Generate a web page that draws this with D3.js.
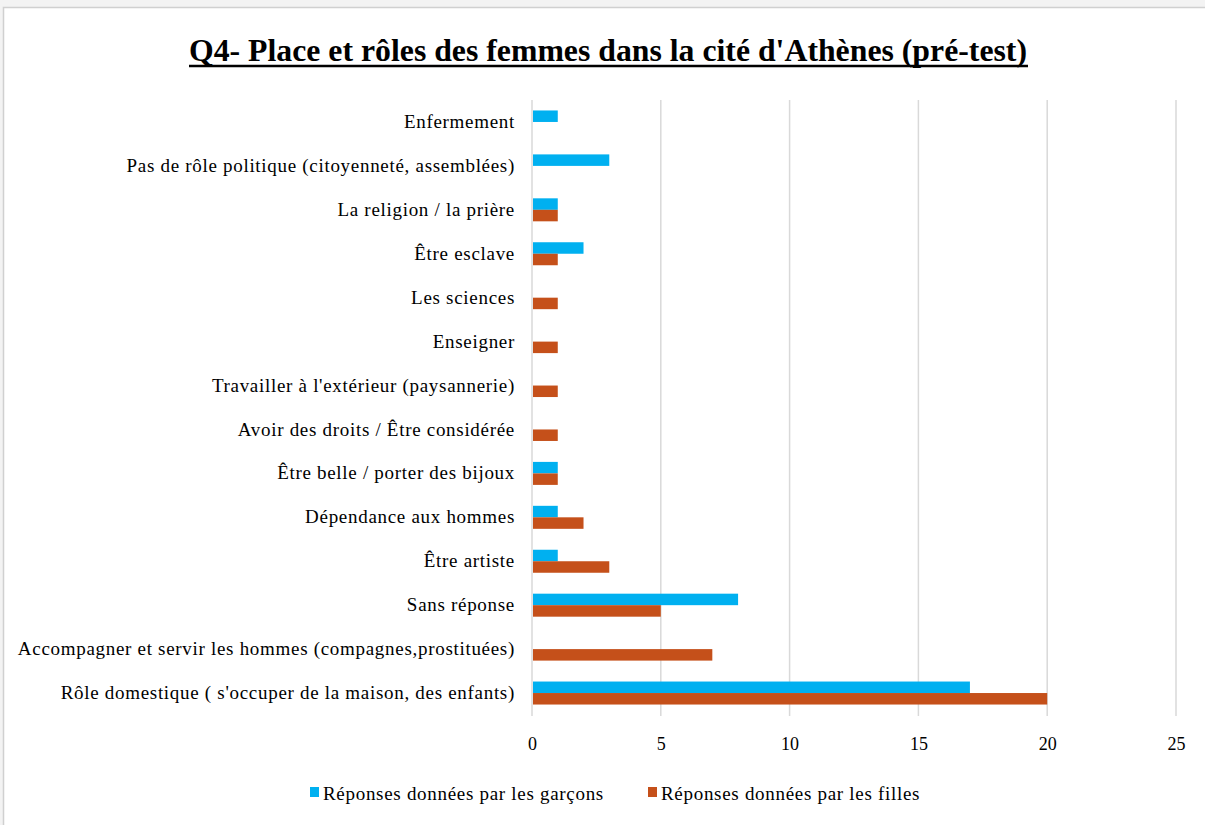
<!DOCTYPE html>
<html><head><meta charset="utf-8">
<script src="https://cdn.jsdelivr.net/npm/d3@7"></script>
<style>body{margin:0;background:#f3f3f3;overflow:hidden}svg{display:block}</style>
</head><body>
<script>
const categories = [
  "Enfermement",
  "Pas de rôle politique (citoyenneté, assemblées)",
  "La religion / la prière",
  "Être esclave",
  "Les sciences",
  "Enseigner",
  "Travailler à l'extérieur (paysannerie)",
  "Avoir des droits / Être considérée",
  "Être belle / porter des bijoux",
  "Dépendance aux hommes",
  "Être artiste",
  "Sans réponse",
  "Accompagner et servir les hommes (compagnes,prostituées)",
  "Rôle domestique ( s'occuper de la maison, des enfants)"
];
const garcons = [1, 3, 1, 2, 0, 0, 0, 0, 1, 1, 1, 8, 0, 17];
const filles  = [0, 0, 1, 1, 1, 1, 1, 1, 1, 2, 3, 5, 7, 20];
const seriesNames = ["Réponses données par les garçons", "Réponses données par les filles"];
const seriesColors = ["#00b0f0", "#c5501a"];
const xTicks = [0, 5, 10, 15, 20, 25];
const title = "Q4- Place et rôles des femmes dans la cité d'Athènes (pré-test)";

const W = 1205, H = 825;
const svg = d3.select("body").append("svg").attr("width", W).attr("height", H);
const font = "'Liberation Serif','Times New Roman',serif";

// chart frame
svg.append("rect").attr("x", 3.5).attr("y", 7.5).attr("width", W).attr("height", H)
  .attr("fill", "#fff").attr("stroke", "#d0d0d0").attr("stroke-width", 1.5);

// title
svg.append("text").attr("x", 608).attr("y", 61).attr("text-anchor", "middle")
  .attr("font-family", font).attr("font-weight", "bold").attr("font-size", 32)
  .attr("fill", "#000").attr("textLength", 838).attr("lengthAdjust", "spacingAndGlyphs")
  .text(title);
svg.append("line").attr("x1", 189).attr("x2", 1028).attr("y1", 66).attr("y2", 66)
  .attr("stroke", "#000").attr("stroke-width", 2.5);

const x = d3.scaleLinear().domain([0, 25]).range([532, 1176]);
const y = d3.scaleBand().domain(categories).range([100, 715]).paddingInner(0).paddingOuter(0);
const sub = d3.scaleBand().domain([0, 1]).range([-11.5, 11.5]);

// gridlines
svg.append("g").selectAll("line").data(xTicks).join("line")
  .attr("x1", d => x(d)).attr("x2", d => x(d)).attr("y1", 100).attr("y2", 716)
  .attr("stroke", "#d9d9d9").attr("stroke-width", 1.5);

// bars
const data = [garcons, filles];
data.forEach((vals, si) => {
  svg.append("g").selectAll("rect").data(vals.map((v, i) => ({v, c: categories[i]})).filter(d => d.v > 0))
    .join("rect")
    .attr("x", x(0) + 1)
    .attr("y", d => y(d.c) + y.bandwidth() / 2 + sub(si))
    .attr("width", d => x(d.v) - x(0) - 1)
    .attr("height", sub.bandwidth())
    .attr("fill", seriesColors[si]);
});

// category labels
const yAxis = d3.axisLeft(y).tickSize(0).tickPadding(0);
const ya = svg.append("g").attr("transform", "translate(515,0)").call(yAxis);
ya.select(".domain").remove();
ya.selectAll("text").attr("font-family", font).attr("font-size", 19)
  .attr("letter-spacing", "0.7px").attr("fill", "#000");

// x axis tick labels
const xAxis = d3.axisBottom(x).tickValues(xTicks).tickSize(0).tickPadding(0);
const xa = svg.append("g").attr("transform", "translate(0,737)").call(xAxis);
xa.select(".domain").remove();
xa.selectAll("text").attr("font-family", font).attr("font-size", 18).attr("fill", "#000");

// legend
const legX = [310, 648];
seriesNames.forEach((n, i) => {
  svg.append("rect").attr("x", legX[i]).attr("y", 787).attr("width", 9).attr("height", 10).attr("fill", seriesColors[i]);
  svg.append("text").attr("x", legX[i] + 13).attr("y", 800).attr("font-family", font)
    .attr("font-size", 19).attr("letter-spacing", "0.7px").attr("fill", "#000").text(n);
});
</script>
</body></html>
